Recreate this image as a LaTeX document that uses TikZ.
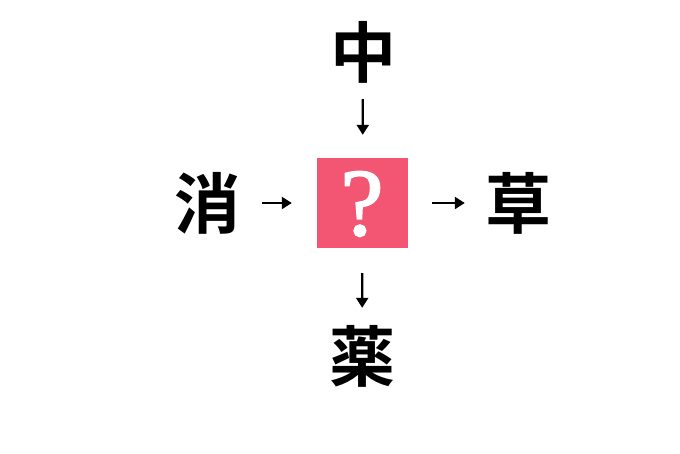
\documentclass[tikz,border=0pt]{standalone}
\usepackage{fontspec}
\newfontfamily\cjk{Noto Sans CJK JP Bold}
\newfontfamily\qfont[FakeBold=2]{Liberation Serif}
\usetikzlibrary{arrows.meta}
\definecolor{qpink}{HTML}{F25672}

\begin{document}
\begin{tikzpicture}[
            x=1pt, y=-1pt,
            every node/.style={inner sep=0pt, font=\cjk\fontsize{66}{66}\selectfont},
            qbox/.style={fill=qpink, minimum width=91pt, minimum height=90pt},
            arr/.style={-{Triangle[length=10pt,width=12pt]}, line width=2.3pt},
            ]
            \useasboundingbox (0,0) rectangle (680,453);
            \node[qbox] (q) at (362.5, 203) {};
            \node[text=white, font=\qfont\fontsize{96}{96}\selectfont] (qm) at (362, 204) {?};
            \node (chu) at (363, 52) {中};
            \node (sho) at (207, 203) {消};
            \node (so) at (518, 203) {草};
            \node (yaku) at (362, 356) {薬};
            \draw[arr, shorten <=16pt, shorten >=23pt] (chu) -- (q);
            \draw[arr, shorten <=22pt, shorten >=25pt] (sho) -- (q);
            \draw[arr, shorten <=24pt, shorten >=20pt] (q) -- (so);
            \draw[arr, shorten <=25pt, shorten >=17pt] (q) -- (yaku);
        \end{tikzpicture}
\end{document}
